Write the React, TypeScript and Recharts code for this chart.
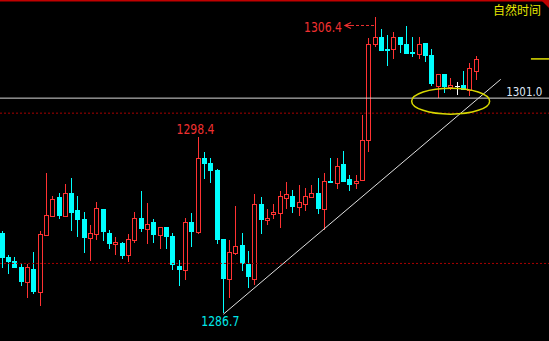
import React from 'react';
import { ComposedChart, Bar, XAxis, YAxis, ReferenceLine, ReferenceDot } from 'recharts';

const opens = [
  1292.03, 1290.45, 1290.16, 1289.76, 1288.79, 1289.63, 1288.12, 1291.91, 1293.18, 1294.42,
  1293.18, 1294.69, 1293.56, 1292.96, 1291.72, 1291.98, 1293.62, 1292.03, 1291.32, 1291.36,
  1290.56, 1291.58, 1293.03, 1292.29, 1292.76, 1291.89, 1292.43, 1291.83, 1289.83, 1289.57,
  1292.76, 1292.09, 1297.02, 1296.69, 1296.22, 1291.63, 1288.97, 1290.70, 1291.23, 1289.97,
  1288.97, 1293.96, 1292.89, 1293.29, 1293.36, 1294.36, 1294.49, 1293.76, 1293.96, 1294.42,
  1294.69, 1293.62, 1295.49, 1295.36, 1296.62, 1295.62, 1295.36, 1295.55, 1298.21, 1304.60,
  1305.07, 1304.27, 1304.27, 1305.07, 1304.60, 1304.07, 1303.94, 1304.67, 1303.87, 1301.81,
  1302.61, 1301.74, 1301.81, 1301.88, 1301.54, 1302.81,
];
const highs = [
  1292.16, 1290.56, 1290.43, 1290.01, 1289.97, 1290.77, 1292.16, 1296.02, 1294.49, 1294.69,
  1295.29, 1295.69, 1294.49, 1293.43, 1292.56, 1294.09, 1293.62, 1292.23, 1291.76, 1291.43,
  1291.96, 1293.43, 1294.82, 1294.02, 1292.96, 1292.43, 1292.43, 1292.03, 1290.23, 1293.03,
  1293.36, 1298.41, 1297.42, 1297.02, 1296.29, 1291.63, 1291.56, 1293.83, 1292.03, 1290.83,
  1294.62, 1294.42, 1293.62, 1293.96, 1294.82, 1295.42, 1294.89, 1295.22, 1295.02, 1295.22,
  1295.69, 1296.02, 1297.02, 1297.02, 1297.49, 1295.89, 1295.89, 1299.88, 1305.00, 1306.40,
  1305.60, 1305.20, 1305.40, 1305.07, 1305.80, 1305.07, 1305.07, 1304.67, 1304.27, 1302.61,
  1302.61, 1302.34, 1302.08, 1302.81, 1303.34, 1303.81,
];
const lows = [
  1289.70, 1289.30, 1289.70, 1288.52, 1287.70, 1287.99, 1287.17, 1291.91, 1293.18, 1292.96,
  1293.09, 1292.16, 1291.76, 1290.70, 1290.17, 1291.56, 1291.49, 1290.96, 1290.56, 1290.30,
  1290.10, 1291.36, 1292.09, 1291.29, 1291.36, 1290.96, 1290.96, 1289.57, 1288.50, 1288.90,
  1291.10, 1291.96, 1295.62, 1295.37, 1291.29, 1286.70, 1287.70, 1290.56, 1289.50, 1288.37,
  1288.57, 1291.96, 1292.56, 1292.96, 1292.36, 1293.62, 1293.36, 1293.16, 1293.49, 1294.42,
  1293.29, 1292.23, 1295.36, 1294.96, 1295.42, 1294.82, 1294.96, 1295.55, 1297.42, 1304.40,
  1304.14, 1303.14, 1303.60, 1304.00, 1303.94, 1303.74, 1303.60, 1303.40, 1301.80, 1301.01,
  1301.34, 1301.54, 1301.21, 1301.54, 1301.14, 1302.21,
];
const closes = [
  1290.39, 1290.12, 1289.72, 1288.79, 1289.77, 1288.10, 1291.96, 1293.23, 1294.29, 1293.18,
  1294.69, 1293.36, 1292.89, 1291.72, 1292.01, 1293.67, 1292.11, 1291.32, 1291.41, 1290.50,
  1291.63, 1293.03, 1292.29, 1292.63, 1291.89, 1292.43, 1291.76, 1289.90, 1289.57, 1292.76,
  1292.09, 1297.02, 1296.62, 1296.15, 1291.56, 1288.97, 1290.77, 1291.16, 1289.97, 1289.10,
  1293.96, 1292.89, 1293.03, 1293.43, 1294.49, 1294.62, 1293.76, 1294.09, 1294.49, 1294.69,
  1293.62, 1295.49, 1295.36, 1296.49, 1295.42, 1295.22, 1295.49, 1298.21, 1304.60, 1305.07,
  1304.14, 1304.14, 1305.07, 1304.54, 1303.94, 1303.94, 1304.60, 1303.80, 1301.94, 1302.61,
  1301.74, 1301.88, 1301.81, 1301.54, 1303.01, 1303.61,
];

const dashedLevels = [1300, 1290];
const markLevel = 1301.0;
const markLabel = '1301.0';
const highMark = { index: 59, price: 1306.4, text: '1306.4' };
const midHighMark = { index: 31, price: 1298.4, text: '1298.4' };
const lowMark = { index: 35, price: 1286.7, text: '1286.7' };
const trendStart = { x: 35.13, y: 1286.62 };
const trendEnd = { x: 79.02, y: 1302.25 };
const ellipseCenter = { x: 71.1, y: 1300.8 };
const lastPrice = closes[closes.length - 1];
const titleText = '自然时间';

const data = opens.map((o, i) => ({
  i,
  open: o,
  high: highs[i],
  low: lows[i],
  close: closes[i],
  range: [lows[i], highs[i]],
}));

const UP = '#ff3232';
const DOWN = '#00ffff';
const numFont = '"Liberation Sans Narrow", "DejaVu Sans Condensed", "Liberation Sans", sans-serif';

const Candle = (props: any) => {
  const { x, y, width, height, payload } = props;
  if (!payload || x == null || y == null) return null;
  const { open, close, high, low } = payload;
  const top = height >= 0 ? y : y + height;
  const h = Math.abs(height);
  const k = h / (high - low);
  const yO = top + (high - open) * k;
  const yC = top + (high - close) * k;
  const cx = Math.round(x + width / 2);
  const flat = open === close;
  const up = close > open;
  const color = flat ? '#ffffff' : up ? UP : DOWN;
  const bTop = Math.round(Math.min(yO, yC));
  const bBot = Math.round(Math.max(yO, yC));
  return (
    <g>
      <line x1={cx + 0.5} x2={cx + 0.5} y1={Math.round(top)} y2={Math.round(top + h)} stroke={color} strokeWidth={1} />
      {flat ? (
        <line x1={cx - 2} x2={cx + 3} y1={bTop + 0.5} y2={bTop + 0.5} stroke={color} strokeWidth={1} />
      ) : up ? (
        <rect x={cx - 1.5} y={bTop + 0.5} width={4} height={Math.max(bBot - bTop, 1)} fill="#000" stroke={color} strokeWidth={1} />
      ) : (
        <rect x={cx - 2} y={bTop} width={5} height={Math.max(bBot - bTop, 1)} fill={color} />
      )}
    </g>
  );
};

const HighLabel = (p: any) => {
  const cx = Math.round(p.cx);
  const cy = p.cy;
  return (
    <g>
      <text x={cx - 32} y={cy + 15} textAnchor="end" fill="#f03030" fontSize={14} fontFamily={numFont} textLength={38} lengthAdjust="spacingAndGlyphs">
        {highMark.text}
      </text>
      <line x1={cx - 23} x2={cx} y1={cy + 8.5} y2={cy + 8.5} stroke="#f03030" strokeWidth={1} strokeDasharray="3 2" />
      <polyline points={`${cx - 23},${cy + 5.5} ${cx - 29},${cy + 8.5} ${cx - 23},${cy + 11.5}`} fill="none" stroke="#f03030" strokeWidth={1.2} />
      <line x1={cx - 29} x2={cx - 23} y1={cy + 8.5} y2={cy + 8.5} stroke="#f03030" strokeWidth={1} />
    </g>
  );
};

const MidHighLabel = (p: any) => (
  <text x={p.cx - 1.7} y={p.cy - 3.7} textAnchor="middle" fill="#f03030" fontSize={14} fontFamily={numFont} textLength={38} lengthAdjust="spacingAndGlyphs">
    {midHighMark.text}
  </text>
);

const LowLabel = (p: any) => (
  <text x={p.cx - 2.2} y={p.cy + 12.7} textAnchor="middle" fill="#00e8e8" fontSize={14} fontFamily={numFont} textLength={38} lengthAdjust="spacingAndGlyphs">
    {lowMark.text}
  </text>
);

const LevelLabel = (p: any) => (
  <text x={p.cx} y={p.cy - 2} textAnchor="start" fill="#dfe6f5" fontSize={13} fontFamily={numFont} textLength={36} lengthAdjust="spacingAndGlyphs">
    {markLabel}
  </text>
);

const EllipseShape = (p: any) => (
  <ellipse cx={p.cx} cy={p.cy} rx={39} ry={13} fill="none" stroke="#d8d800" strokeWidth={1.5} />
);

export default function App() {
  return (
    <div style={{ position: 'fixed', left: 0, top: 0, width: 549, height: 341, background: '#000', overflow: 'hidden' }}>
      <ComposedChart width={549} height={341} data={data} margin={{ top: 0, right: 0, bottom: 0, left: 0 }} style={{ background: '#000' }}>
        <XAxis dataKey="i" type="number" domain={[-0.206, 86.66]} allowDataOverflow hide />
        <YAxis type="number" domain={[1284.84, 1307.53]} allowDataOverflow hide />
        <ReferenceLine y={1307.49} stroke="#c00000" strokeWidth={2} ifOverflow="visible" />
        {dashedLevels.map((v) => (
          <ReferenceLine key={v} y={v} stroke="#a80000" strokeWidth={1} strokeDasharray="2 2" />
        ))}
        <ReferenceLine y={markLevel} stroke="#d8d8d8" strokeWidth={1} />
        <Bar dataKey="range" barSize={5} isAnimationActive={false} shape={Candle} />
        <ReferenceLine segment={[trendStart, trendEnd]} stroke="#e0e0e0" strokeWidth={1} ifOverflow="visible" />
        <ReferenceDot x={ellipseCenter.x} y={ellipseCenter.y} r={1} shape={EllipseShape} ifOverflow="visible" />
        <ReferenceLine segment={[{ x: 83.8, y: lastPrice }, { x: 86.66, y: lastPrice }]} stroke="#e0e000" strokeWidth={1.5} ifOverflow="visible" />
        <ReferenceDot x={highMark.index} y={highMark.price} r={1} shape={HighLabel} ifOverflow="visible" />
        <ReferenceDot x={midHighMark.index} y={midHighMark.price} r={1} shape={MidHighLabel} ifOverflow="visible" />
        <ReferenceDot x={lowMark.index} y={lowMark.price} r={1} shape={LowLabel} ifOverflow="visible" />
        <ReferenceDot x={79.9} y={markLevel} r={1} shape={LevelLabel} ifOverflow="visible" />
      </ComposedChart>
      <svg width={549} height={341} style={{ position: 'absolute', left: 0, top: 0, pointerEvents: 'none' }}>
        <polygon points="541,0 549,0 549,8" fill="#c00000" />
        <text x={493} y={15} fill="#e6e600" fontSize={12} fontFamily='"Noto Sans CJK SC", sans-serif'>
          {titleText}
        </text>
      </svg>
    </div>
  );
}
